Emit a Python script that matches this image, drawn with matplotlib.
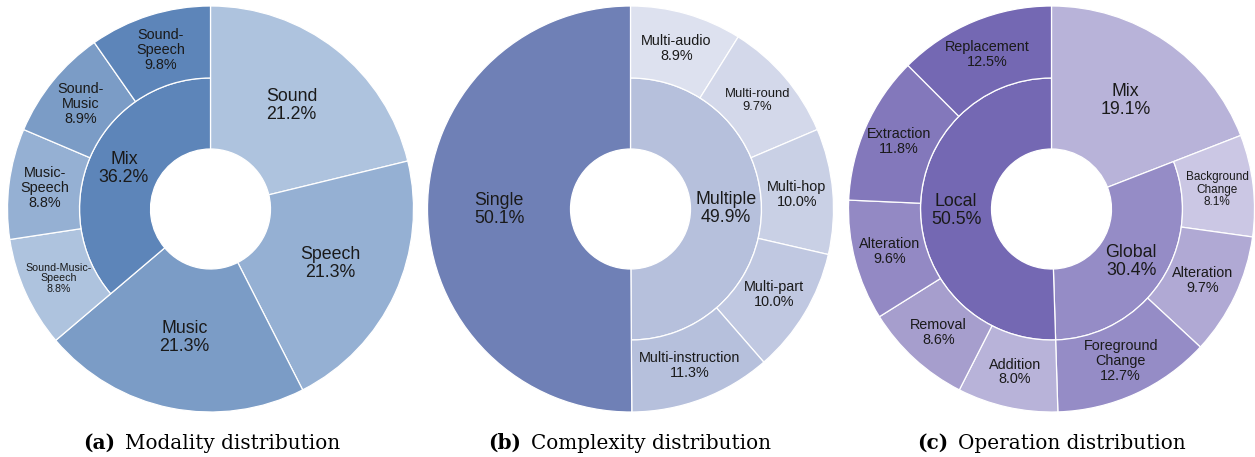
import numpy as np
import matplotlib.pyplot as plt
from matplotlib.patches import Wedge

# ---------------- data ----------------
# (a) Modality
modality_top = ["Sound", "Speech", "Music", "Mix"]
modality_top_values = [21.2, 21.3, 21.3, 36.2]
mix_children = ["Sound-Music-\nSpeech", "Music-\nSpeech", "Sound-\nMusic", "Sound-\nSpeech"]
mix_child_values = [8.8, 8.8, 8.9, 9.8]

# (b) Complexity
complexity_top = ["Multiple", "Single"]
complexity_top_values = [49.9, 50.1]
multiple_children = ["Multi-audio", "Multi-round", "Multi-hop", "Multi-part", "Multi-instruction"]
multiple_child_values = [8.9, 9.7, 10.0, 10.0, 11.3]

# (c) Operation
operation_top = ["Mix", "Global", "Local"]
operation_top_values = [19.1, 30.4, 50.5]
global_children = ["Background\nChange", "Alteration", "Foreground\nChange"]
global_child_values = [8.1, 9.7, 12.7]
local_children = ["Addition", "Removal", "Alteration", "Extraction", "Replacement"]
local_child_values = [8.0, 8.6, 9.6, 11.8, 12.5]

captions = ["(a)", "(b)", "(c)"]
caption_texts = ["Modality distribution", "Complexity distribution", "Operation distribution"]

# ---------------- styles ----------------
plt.rcParams["font.family"] = ["Liberation Sans", "DejaVu Sans"]
TEXT = "#1a1a1a"
R_HOLE = 60 / 203
R_MID = 131 / 203
R_OUT = 1.0
BIG = 12.8
SMALL = 10.4

W, H = 1255, 457
fig = plt.figure(figsize=(W / 100, H / 100), dpi=100)


def make_ax(cx, cy, r=203):
    ax = fig.add_axes([(cx - r) / W, (H - cy - r) / H, 2 * r / W, 2 * r / H])
    ax.set_xlim(-1, 1)
    ax.set_ylim(-1, 1)
    ax.set_aspect("equal")
    ax.axis("off")
    return ax


def sector(ax, a0, a1, r0, r1, color, label, value, size):
    # a0, a1 in percent, clockwise from 12 o'clock
    t1 = 90 - a1 * 3.6
    t2 = 90 - a0 * 3.6
    ax.add_patch(Wedge((0, 0), r1, t1, t2, width=r1 - r0, facecolor=color,
                       edgecolor="white", linewidth=0.9))
    mid = np.deg2rad((t1 + t2) / 2)
    rm = (r0 + r1) / 2
    ax.text(rm * np.cos(mid), rm * np.sin(mid), f"{label}\n{value:.1f}%",
            ha="center", va="center", fontsize=size, color=TEXT, linespacing=1.08)


def sunburst(ax, tops, top_vals, top_colors, children, child_colors, sizes):
    start = 0.0
    for name, v, c in zip(tops, top_vals, top_colors):
        end = start + v
        if name in children:
            labels, vals = children[name]
            sector(ax, start, end, R_HOLE, R_MID, c, name, v, BIG)
            s = start
            for lab, cv in zip(labels, vals):
                e = min(s + cv, end)
                sector(ax, s, e, R_MID, R_OUT, child_colors[(name, lab)], lab, cv,
                       sizes.get(lab, SMALL))
                s += cv
        else:
            sector(ax, start, end, R_HOLE, R_OUT, c, name, v, BIG)
        start = end


# (a)
ax = make_ax(210.5, 209)
sunburst(ax, modality_top, modality_top_values,
         ["#aec3de", "#95b0d3", "#7b9cc6", "#5d85b9"],
         {"Mix": (mix_children, mix_child_values)},
         {("Mix", mix_children[0]): "#aec3de", ("Mix", mix_children[1]): "#95b0d3",
          ("Mix", mix_children[2]): "#7b9cc6", ("Mix", mix_children[3]): "#5d85b9"},
         {"Sound-Music-\nSpeech": 7.7})

# (b)
ax = make_ax(630.5, 209)
sunburst(ax, complexity_top, complexity_top_values,
         ["#b6c0dc", "#6f80b6"],
         {"Multiple": (multiple_children, multiple_child_values)},
         {("Multiple", multiple_children[0]): "#dde1ef", ("Multiple", multiple_children[1]): "#d3d8ea",
          ("Multiple", multiple_children[2]): "#c9d0e5", ("Multiple", multiple_children[3]): "#c0c8e1",
          ("Multiple", multiple_children[4]): "#b6c0dc"},
         {"Multi-round": 9.4})

# (c)
ax = make_ax(1051.5, 209)
sunburst(ax, operation_top, operation_top_values,
         ["#b8b3d9", "#958cc6", "#7468b3"],
         {"Global": (global_children, global_child_values),
          "Local": (local_children, local_child_values)},
         {("Global", global_children[0]): "#cbc7e4", ("Global", global_children[1]): "#b0a9d4",
          ("Global", global_children[2]): "#958cc6",
          ("Local", local_children[0]): "#b8b3d9", ("Local", local_children[1]): "#a69ecd",
          ("Local", local_children[2]): "#9389c4", ("Local", local_children[3]): "#8378bb",
          ("Local", local_children[4]): "#7468b3"},
         {"Background\nChange": 8.5})

# captions, centred under each chart
cap_cx = [212, 630, 1051.5]
cap_y = 1 - 449 / H
serif = ["DejaVu Serif"]
fig.canvas.draw()
r = fig.canvas.get_renderer()
for cx, c, t in zip(cap_cx, captions, caption_texts):
    t1 = fig.text(0, cap_y, c, fontsize=14.4, fontweight="bold", family=serif,
                  va="baseline", color="black")
    t2 = fig.text(0, cap_y, t, fontsize=14.4, family=serif, va="baseline", color="black")
    w1 = t1.get_window_extent(renderer=r).width
    w2 = t2.get_window_extent(renderer=r).width
    gap = 10
    x0 = cx - (w1 + gap + w2) / 2
    t1.set_x(x0 / W)
    t2.set_x((x0 + w1 + gap) / W)

fig.savefig("out.png", dpi=100)
